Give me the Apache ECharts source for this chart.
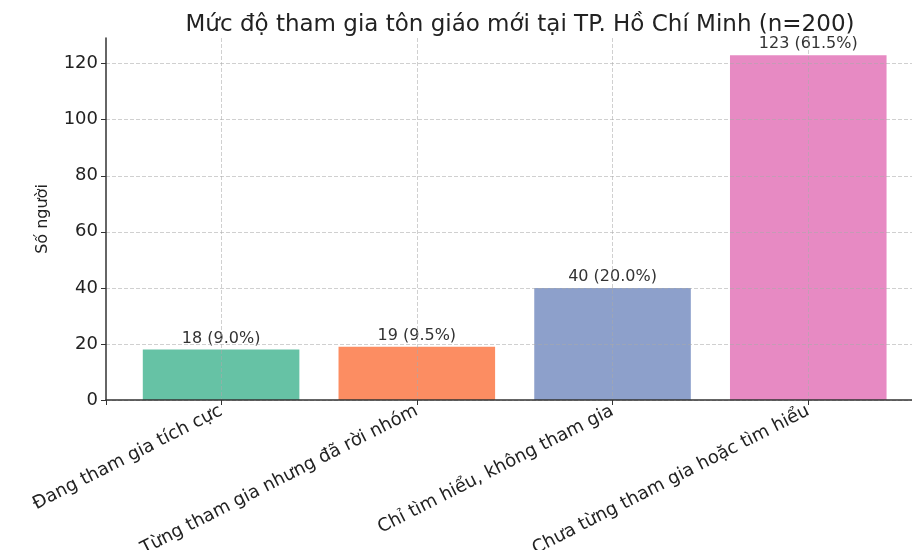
<!DOCTYPE html>
<html>
<head>
<meta charset="utf-8">
<script src="https://cdn.jsdelivr.net/npm/echarts@6/dist/echarts.min.js"></script>
<style>
  html, body { margin: 0; padding: 0; background: #fff; }
  #main { width: 912px; height: 550px; }
</style>
</head>
<body>
<div id="main"></div>
<script>
const categories = [
    'Đang tham gia tích cực',
    'Từng tham gia nhưng đã rời nhóm',
    'Chỉ tìm hiểu, không tham gia',
    'Chưa từng tham gia hoặc tìm hiểu'
]
const counts = [18, 19, 40, 123]
const total = 200
const barColors = ['#66c2a5', '#fc8d62', '#8da0cb', '#e78ac3']

const font = 'DejaVu Sans'
let myChart = echarts.init(document.getElementById('main'))

// grid lines sit on top of the bars, like the original
const gridLine = { type: 'dashed', color: 'rgba(170,170,170,0.55)', width: 1 }

let option = {
    backgroundColor: '#fff',
    animation: false,
    title: {
        text: 'Mức độ tham gia tôn giáo mới tại TP. Hồ Chí Minh (n=' + total + ')',
        left: 515,
        textAlign: 'center',
        top: 9,
        textStyle: { fontFamily: font, fontSize: 23, fontWeight: 'normal', color: '#222' }
    },
    grid: { left: 106, right: 0, top: 38, bottom: 150, containLabel: false, outerBoundsMode: 'none' },
    xAxis: {
        type: 'value',
        z: 5,
        min: -0.588,
        max: 3.53,
        axisLine: { show: true, lineStyle: { color: '#333', width: 1.5 } },
        axisTick: { show: true, length: 5, lineStyle: { color: '#333' } },
        axisLabel: {
            rotate: 27,
            margin: 10,
            fontFamily: font,
            fontSize: 18,
            color: '#222',
            formatter: v => Number.isInteger(v) && categories[v] ? categories[v] : ''
        },
        splitLine: { show: true, showMinLine: false, showMaxLine: false, lineStyle: gridLine }
    },
    yAxis: {
        type: 'value',
        z: 5,
        min: 0,
        max: 129.15,
        interval: 20,
        name: 'Số người',
        nameLocation: 'middle',
        nameGap: 55,
        nameTextStyle: { fontFamily: font, fontSize: 16, color: '#222' },
        axisLine: { show: true, onZero: false, lineStyle: { color: '#333', width: 1.5 } },
        axisTick: { show: true, length: 5, lineStyle: { color: '#333' } },
        axisLabel: { fontFamily: font, fontSize: 18, color: '#222', showMaxLabel: false, margin: 8 },
        splitLine: { show: true, showMaxLine: false, lineStyle: gridLine }
    },
    series: [
        {
            type: 'bar',
            barWidth: '80%',
            data: counts.map((v, i) => ({
                value: [i, v],
                itemStyle: { color: barColors[i] }
            })),
            label: {
                show: true,
                position: 'top',
                distance: 3,
                fontFamily: font,
                fontSize: 16,
                color: '#333',
                formatter: p => p.value[1] + ' (' + (p.value[1] / total * 100).toFixed(1) + '%)'
            }
        }
    ]
}

myChart.setOption(option)
</script>
</body>
</html>
